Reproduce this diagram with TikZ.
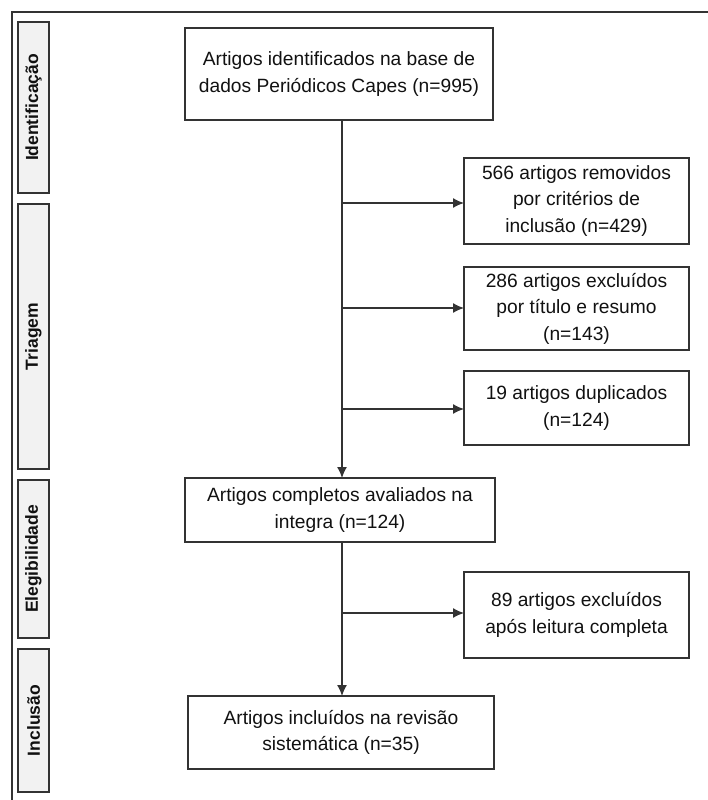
\documentclass[tikz,border=0pt]{standalone}
\usepackage{fontspec}
\setmainfont{Liberation Sans}
\usetikzlibrary{arrows.meta}
\definecolor{linec}{HTML}{333333}
\definecolor{sidefill}{HTML}{F2F2F2}
\definecolor{txt}{HTML}{111111}
\tikzset{
  mainbox/.style={draw=linec, line width=1.3pt, align=center, text=txt,
    font=\fontsize{19.2}{26.5}\selectfont, inner sep=0pt, outer sep=0pt},
  sidebox/.style={draw=linec, line width=1.3pt, fill=sidefill, rotate=90,
    minimum height=31pt, inner sep=0pt, outer sep=0pt, text=txt,
    font=\fontsize{17.5}{20}\selectfont\bfseries},
  flow/.style={draw=linec, line width=1.3pt, -{Latex[length=11pt,width=10pt]}},
  trunk/.style={draw=linec, line width=1.3pt}
}
\begin{document}
\begin{tikzpicture}[x=1pt,y=-1pt]
\useasboundingbox (0,0) rectangle (708,800);
% outer frame
\draw[linec, line width=1.3pt] (12,800) -- (12,12) -- (708,12);
% side labels
\node[sidebox, minimum width=171pt] (sid) at (33.5,107.5) {Identificação};
\node[sidebox, minimum width=265pt] (str) at (33.5,336.5) {Triagem};
\node[sidebox, minimum width=158pt] (sel) at (33.5,559) {Elegibilidade};
\node[sidebox, minimum width=143pt] (sin) at (33.5,720.5) {Inclusão};
% main boxes
\node[mainbox, minimum width=308pt, minimum height=92pt] (b1) at (339,74)
  {Artigos identificados na base de\\dados Periódicos Capes (n=995)};
\node[mainbox, minimum width=310pt, minimum height=64pt] (b5) at (340,510)
  {Artigos completos avaliados na\\integra (n=124)};
\node[mainbox, minimum width=306pt, minimum height=73pt] (b7) at (341,732.5)
  {Artigos incluídos na revisão\\sistemática (n=35)};
% side boxes
\node[mainbox, minimum width=225pt, minimum height=86pt] (b2) at (576.5,201)
  {566 artigos removidos\\por critérios de\\inclusão (n=429)};
\node[mainbox, minimum width=225pt, minimum height=83pt] (b3) at (576.5,308.5)
  {286 artigos excluídos\\por título e resumo\\(n=143)};
\node[mainbox, minimum width=225pt, minimum height=74pt] (b4) at (576.5,408)
  {19 artigos duplicados\\(n=124)};
\node[mainbox, minimum width=225pt, minimum height=86pt] (b6) at (576.5,615)
  {89 artigos excluídos\\após leitura completa};
% trunk coordinates
\coordinate (t1) at (342,120);
\coordinate (t2) at (342,478);
\coordinate (t3) at (342,542);
\coordinate (t4) at (342,696);
\coordinate (j2) at (342,203);
\coordinate (j3) at (342,308);
\coordinate (j4) at (342,409);
\coordinate (j6) at (342,613);
% connectors
\draw[flow] (t1) -- (t2);
\draw[flow] (t3) -- (t4);
\draw[flow] (j2) -- (j2 -| b2.west);
\draw[flow] (j3) -- (j3 -| b3.west);
\draw[flow] (j4) -- (j4 -| b4.west);
\draw[flow] (j6) -- (j6 -| b6.west);
\end{tikzpicture}
\end{document}
